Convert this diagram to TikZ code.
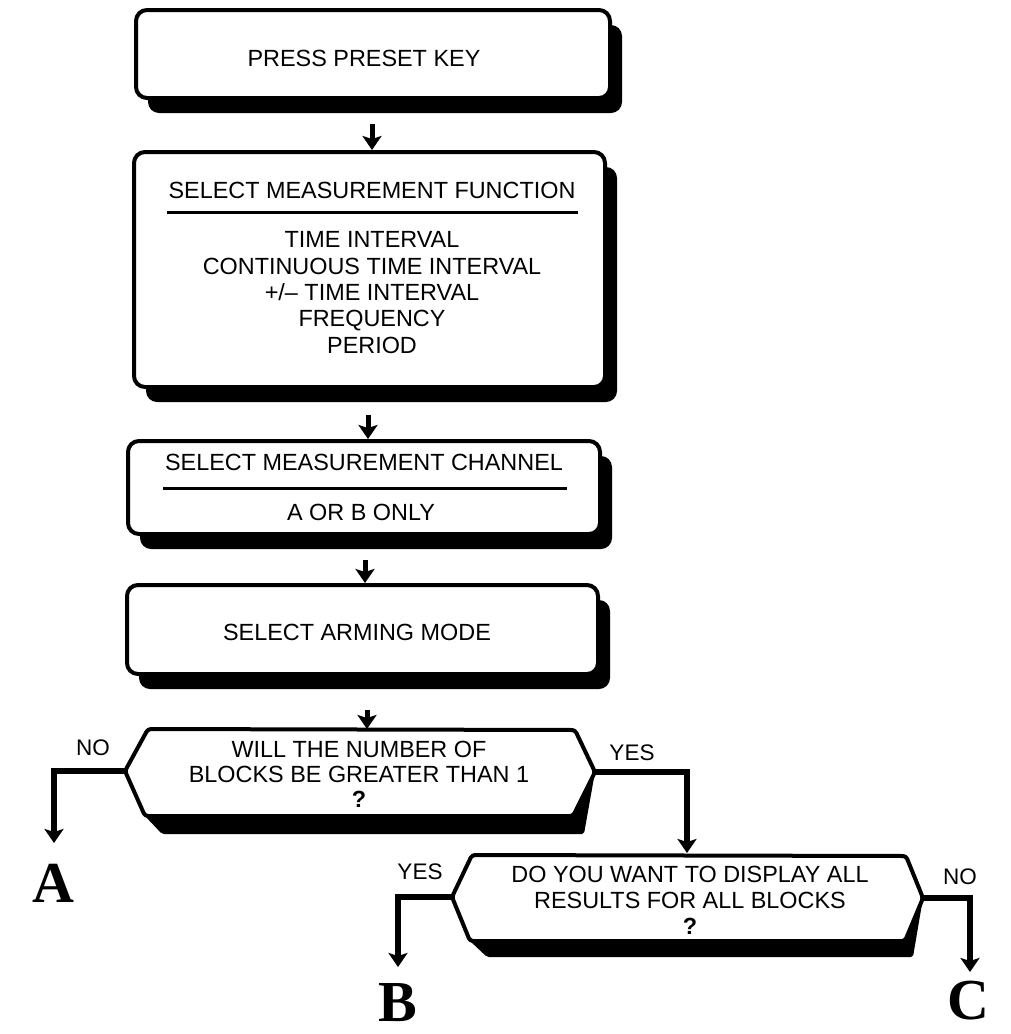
\documentclass[tikz,border=0pt]{standalone}
\usepackage{fontspec}
\setmainfont{Liberation Sans}
\newfontfamily\serifbig{Liberation Serif}
\usetikzlibrary{arrows.meta,shadows}
\begin{document}
\begin{tikzpicture}[x=1pt,y=-1pt,
  txt/.style={font=\fontsize{23.4pt}{26.3pt}\selectfont, align=center, inner sep=0pt},
  dtxt/.style={font=\fontsize{23.4pt}{25pt}\selectfont, align=center, inner sep=0pt},
  boxnode/.style={draw, line width=4pt, rounded corners=11pt, fill=white, inner sep=0pt,
    drop shadow={opacity=1, fill=black, shadow xshift=12pt, shadow yshift=-15pt}},
  flow/.style={line width=5pt, -{Stealth[length=14pt,width=19pt,inset=3pt]}},
  branch/.style={line width=6pt, -{Stealth[length=14pt,width=19pt,inset=3pt]}},
  hexa/.style={draw, fill=white, line width=4pt, rounded corners=3pt, line join=round},
  hexshadow/.style={fill=black, rounded corners=2pt},
  rule/.style={line width=3pt},
  lbl/.style={font=\fontsize{22.5pt}{24pt}\selectfont, inner sep=0pt},
  endlbl/.style={font=\serifbig\bfseries\fontsize{58pt}{58pt}\selectfont, inner sep=0pt},
]
\useasboundingbox[fill=white] (0,0) rectangle (1010,1034);

% ---- boxes ----
\node[boxnode, minimum width=474pt, minimum height=88pt] (b1) at (373,54) {};
\node[txt] (t1) at (364,58) {PRESS PRESET KEY};

\node[boxnode, minimum width=471pt, minimum height=235pt] (b2) at (369.5,269.5) {};
\node[txt] (t2) at (372,190) {SELECT MEASUREMENT FUNCTION};
\draw[rule] (167,212) -- (578,212);
\node[txt] (t2b) at (372,292.5) {TIME INTERVAL\\CONTINUOUS TIME INTERVAL\\+/{\textendash} TIME INTERVAL\\FREQUENCY\\PERIOD};

\node[boxnode, minimum width=472pt, minimum height=93pt] (b3) at (364,487.5) {};
\node[txt] (t3) at (364,462) {SELECT MEASUREMENT CHANNEL};
\draw[rule] (163,488) -- (567,488);
\node[txt] (t3b) at (361,512) {A OR B ONLY};

\node[boxnode, minimum width=471pt, minimum height=89pt] (b4) at (362.5,629.5) {};
\node[txt] (t4) at (357,632) {SELECT ARMING MODE};

% ---- arrows between boxes ----
\draw[flow] ([xshift=-1pt,yshift=-24pt]b1.south) coordinate (a1) -- (a1 |- b2.north);
\draw[flow] ([xshift=-1.5pt,yshift=-26pt]b2.south) coordinate (a2) -- (a2 |- b3.north);
\draw[flow] ([xshift=1pt,yshift=-24pt]b3.south) coordinate (a3) -- (a3 |- b4.north);

% ---- decision 1 ----
\coordinate (d1l) at (125,771);
\coordinate (d1r) at (595,772);
\coordinate (d1t) at (367,729);
\fill[hexshadow] (d1r) -- (584,834) -- (162,834) -- (145,816) -- (573,816) -- cycle;
\draw[hexa] (d1l) -- (148,729) -- (575,730) -- (d1r) -- (573,816) -- (145,816) -- cycle;
\node[dtxt] (d1) at (359,774) {WILL THE NUMBER OF\\BLOCKS BE GREATER THAN 1\\\textbf{?}};
\draw[flow] ([xshift=4.5pt,yshift=-34pt]b4.south) coordinate (a4) -- (a4 |- d1t);

% ---- decision 2 ----
\coordinate (d2l) at (452,897);
\coordinate (d2r) at (923,898);
\coordinate (d2t) at (687,853);
\fill[hexshadow] (d2r) -- (913,957) -- (487,957) -- (470,941) -- (905,941) -- cycle;
\draw[hexa] (d2l) -- (472,855) -- (906,856) -- (d2r) -- (905,941) -- (470,941) -- cycle;
\node[dtxt, font=\fontsize{23.4pt}{26pt}\selectfont] (d2) at (690,900) {DO YOU WANT TO DISPLAY ALL\\RESULTS FOR ALL BLOCKS\\\textbf{?}};

% ---- branches ----
\coordinate (ea) at (54,843);
\coordinate (eb) at (398,967);
\coordinate (ec) at (970,972);
\draw[branch] (d1l) -| (ea);
\draw[branch] (d1r) -| (d2t);
\draw[branch] (d2l) -| (eb);
\draw[branch] (d2r) -| (ec);

\node[lbl] (no1) at (93,748) {NO};
\node[lbl] (yes1) at (632,753) {YES};
\node[lbl] (yes2) at (420,872) {YES};
\node[lbl] (no2) at (960,877) {NO};

\node[endlbl] (A) at (53,883) {A};
\node[endlbl] (B) at (398,1003) {B};
\node[endlbl] (C) at (968,1001) {C};
\end{tikzpicture}
\end{document}
